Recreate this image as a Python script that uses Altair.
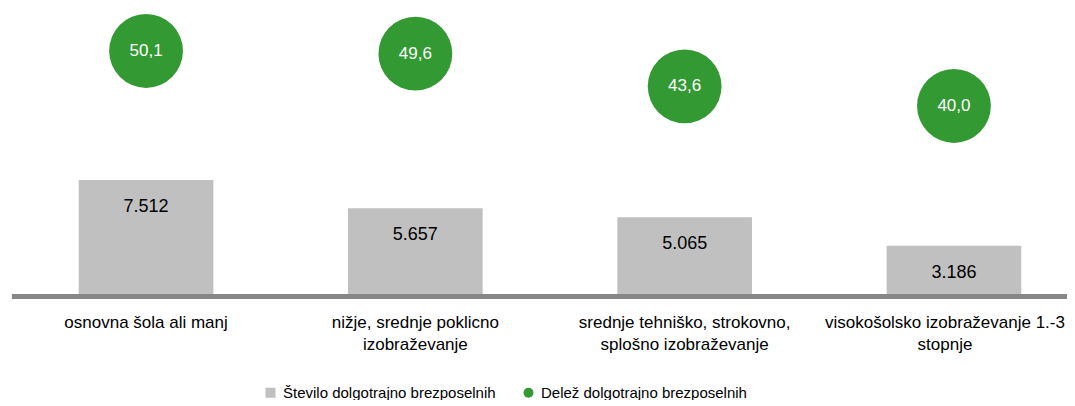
import altair as alt
import pandas as pd

categories = [
    "osnovna šola ali manj",
    "nižje, srednje poklicno|izobraževanje",
    "srednje tehniško, strokovno,|splošno izobraževanje",
    "visokošolsko izobraževanje 1.-3|stopnje",
]
stevilo = [7512, 5657, 5065, 3186]
delez = [50.1, 49.6, 43.6, 40.0]
series_names = ["Število dolgotrajno brezposelnih", "Delež dolgotrajno brezposelnih"]

rows = []
for c, v in zip(categories, stevilo):
    rows.append({"cat": c, "series": series_names[0], "value": v,
                 "label": f"{v:,.0f}".replace(",", ".")})
for c, v in zip(categories, delez):
    rows.append({"cat": c, "series": series_names[1], "value": v,
                 "label": f"{v:.1f}".replace(".", ",")})
df = pd.DataFrame(rows)

GREY = "#C0C0C0"
GREEN = "#339933"
FONT = "Liberation Sans"

x = alt.X("cat:N", sort=categories, title=None,
          scale=alt.Scale(domain=categories, range=[3.4, 1080.6],
                          paddingInner=0.5, paddingOuter=0.25),
          axis=alt.Axis(labelExpr="split(datum.label, '|')", labelAngle=0,
                        ticks=False, domainColor="#878787", domainWidth=5,
                        offset=2, labelPadding=18, labelFontSize=17,
                        labelColor="#000000", labelLineHeight=22,
                        labelBaseline="top", labelLimit=400, labelFont=FONT,
                        labelOffset={"condition": {"test": "indexof(datum.value, 'visoko') == 0",
                                                   "value": -9},
                                     "value": 0}))

color = alt.Color("series:N", title=None,
                  scale=alt.Scale(domain=series_names, range=[GREY, GREEN]),
                  legend=alt.Legend(orient="none", legendX=255, legendY=377,
                                    direction="horizontal", title=None,
                                    labelFontSize=15, labelFont=FONT,
                                    labelColor="#000000", symbolSize=100,
                                    symbolStrokeWidth=0, labelOffset=5,
                                    columnPadding=25, padding=0,
                                    symbolOffset=0, labelLimit=400))
shape = alt.Shape("series:N", title=None,
                  scale=alt.Scale(domain=series_names, range=["square", "circle"]))

y1 = alt.Y("value:Q", scale=alt.Scale(domain=[0, 18846], nice=False, zero=False), axis=None)
y2 = alt.Y("value:Q", scale=alt.Scale(domain=[5.47, 57.99], nice=False, zero=False), axis=None)

base = alt.Chart(df)

bars = base.transform_filter(alt.datum.series == series_names[0]).mark_bar(
    color=GREY).encode(x=x, y=y1, color=color)
bar_text = base.transform_filter(alt.datum.series == series_names[0]).mark_text(
    dy=27, fontSize=18, font=FONT, color="#000000", baseline="middle").encode(
    x=x, y=y1, text="label:N")

points = base.transform_filter(alt.datum.series == series_names[1]).mark_point(
    filled=True, size=5450, opacity=1).encode(x=x, y=y2, color=color, shape=shape)
point_text = base.transform_filter(alt.datum.series == series_names[1]).mark_text(
    fontSize=17, font=FONT, color="#FFFFFF", baseline="middle").encode(
    x=x, y=y2, text="label:N")

chart = alt.layer(
    alt.layer(bars, bar_text),
    alt.layer(points, point_text),
).resolve_scale(y="independent").properties(
    width=1059, height=286,
    autosize=alt.AutoSizeParams(type="none"),
    padding={"left": 0, "top": 0, "right": 0, "bottom": 106},
).configure(font=FONT).configure_view(stroke=None)

chart.save("out.html", embed_options={"renderer": "svg", "actions": False})
